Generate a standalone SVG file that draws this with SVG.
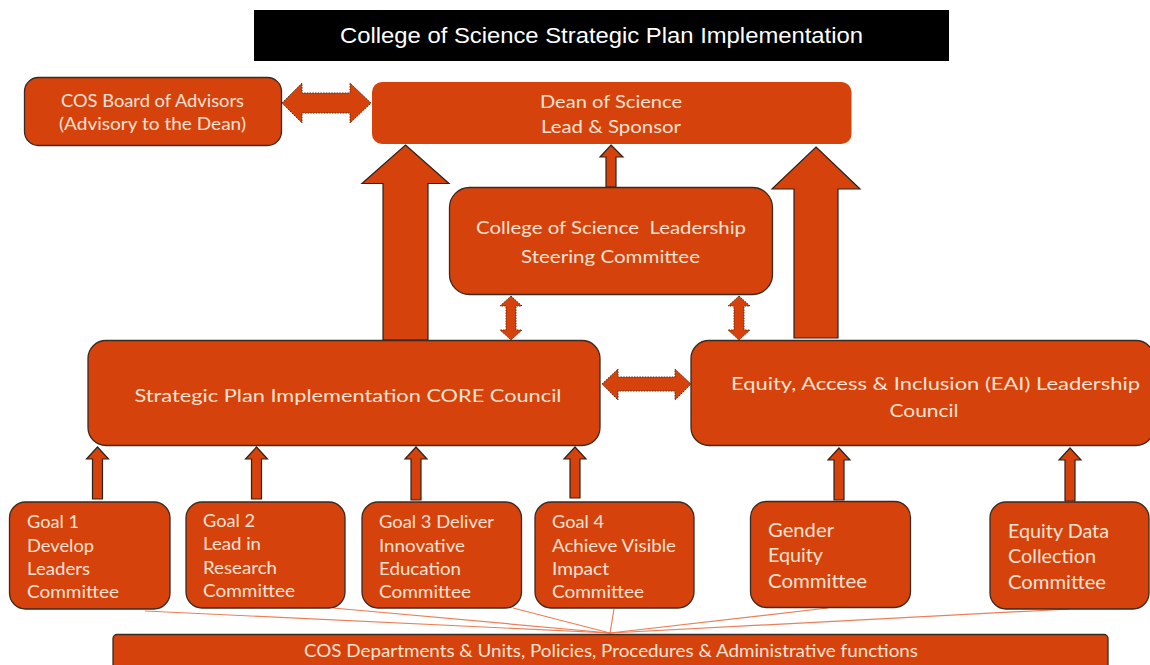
<svg xmlns="http://www.w3.org/2000/svg" width="1150" height="665" viewBox="0 0 1150 665">
<style>
.box{fill:#d5420b;stroke:#3a2a22;stroke-width:1.3}
.nb{fill:#d5420b}
.arr{fill:#d5420b;stroke:#2e221c;stroke-width:1.2;stroke-linejoin:miter}
.darr{fill:#d5420b;stroke:#5b2a14;stroke-width:1;stroke-dasharray:1.5 1.2}
.t{font-family:Lato,"Open Sans","Liberation Sans",sans-serif;font-size:18px;fill:#fde3d4}
.c{text-anchor:middle}
.ln{stroke:#ec7f57;stroke-width:1.2;fill:none}
.title{font-family:"Liberation Sans",Arial,sans-serif;font-size:22px;fill:#ffffff;text-anchor:middle}
</style>

<g id="title">
<rect x="254" y="10" width="695" height="51" fill="#000"/>
<text class="title" x="601.5" y="43" textLength="523" lengthAdjust="spacingAndGlyphs">College of Science Strategic Plan Implementation</text>
</g>

<g id="connectors">
<!-- thin lines to departments bar -->
<line class="ln" x1="145" y1="611" x2="610" y2="633"/>
<line class="ln" x1="333" y1="608" x2="610" y2="633"/>
<line class="ln" x1="513" y1="608" x2="610" y2="633"/>
<line class="ln" x1="614" y1="609" x2="610" y2="633"/>
<line class="ln" x1="828" y1="608" x2="610" y2="633"/>
<line class="ln" x1="1070" y1="609" x2="610" y2="633"/>
<!-- Board <-> Dean -->
<polygon class="darr" points="282,103 302,83 302,93 350,93 350,83 371,103 350,123 350,113 302,113 302,123"/>
<!-- big arrows up to Dean -->
<polygon class="arr" points="405.5,145 449,183.5 428,183.5 428,340 383,340 383,183.5 362,183.5"/>
<polygon class="arr" points="816,147 860,189 838,189 838,338 794,338 794,189 772,189"/>
<!-- steering up to Dean -->
<polygon class="arr" points="611,145 623,157 616,157 616,187 606,187 606,157 600,157"/>
<!-- steering <-> CORE / EAI -->
<polygon class="darr" points="511,296 522,306 516,306 516,330 522,330 511,340 500,330 506,330 506,306 500,306"/>
<polygon class="darr" points="739,296 750,306 744,306 744,330 750,330 739,340 728,330 734,330 734,306 728,306"/>
<!-- CORE <-> EAI -->
<polygon class="darr" points="602,384 618,369 618,377 675,377 675,369 691,384 675,400 675,391 618,391 618,400"/>
<!-- goal arrows -->
<polygon class="arr" points="97.5,447 108.5,459 102.5,459 102.5,499 92.5,499 92.5,459 86.5,459"/>
<polygon class="arr" points="256.5,447 267.5,459 261.5,459 261.5,499 251.5,499 251.5,459 245.5,459"/>
<polygon class="arr" points="416,447 427,459 421,459 421,500 411,500 411,459 405,459"/>
<polygon class="arr" points="575,447 586,459 580,459 580,498 570,498 570,459 564,459"/>
<polygon class="arr" points="839,448 850,460 844,460 844,500 834,500 834,460 828,460"/>
<polygon class="arr" points="1070,448 1081,460 1075,460 1075,501 1065,501 1065,460 1059,460"/>
</g>

<g id="board">
<rect class="box" x="24.5" y="77.5" width="257" height="68" rx="14"/>
<text class="t c" x="152.5" y="107" textLength="183" lengthAdjust="spacingAndGlyphs">COS Board of Advisors</text>
<text class="t c" x="152.5" y="130" textLength="187" lengthAdjust="spacingAndGlyphs">(Advisory to the Dean)</text>
</g>

<g id="dean">
<rect class="nb" x="372" y="82" width="479.5" height="62" rx="10"/>
<text class="t c" x="611" y="108" textLength="142" lengthAdjust="spacingAndGlyphs">Dean of Science</text>
<text class="t c" x="611" y="133" textLength="140" lengthAdjust="spacingAndGlyphs">Lead &amp; Sponsor</text>
</g>

<g id="steering">
<rect class="box" x="449.5" y="187.5" width="323" height="107" rx="20"/>
<text class="t c" x="611" y="234" textLength="270" lengthAdjust="spacingAndGlyphs" xml:space="preserve">College of Science  Leadership</text>
<text class="t c" x="610.5" y="263" textLength="179" lengthAdjust="spacingAndGlyphs">Steering Committee</text>
</g>

<g id="core">
<rect class="box" x="88" y="340.5" width="512" height="105" rx="18"/>
<text class="t c" x="348" y="402" textLength="427" lengthAdjust="spacingAndGlyphs">Strategic Plan Implementation CORE Council</text>
</g>

<g id="eai">
<rect class="box" x="691" y="340.5" width="463" height="105" rx="18"/>
<text class="t c" x="935.5" y="390" textLength="409" lengthAdjust="spacingAndGlyphs">Equity, Access &amp; Inclusion (EAI) Leadership</text>
<text class="t c" x="924" y="417" textLength="69" lengthAdjust="spacingAndGlyphs">Council</text>
</g>

<g id="goal1">
<rect class="box" x="9.5" y="502" width="160.5" height="107" rx="16"/>
<text class="t" x="27" y="528" textLength="52" lengthAdjust="spacingAndGlyphs">Goal 1</text>
<text class="t" x="27" y="552" textLength="67" lengthAdjust="spacingAndGlyphs">Develop</text>
<text class="t" x="27" y="575" textLength="63" lengthAdjust="spacingAndGlyphs">Leaders</text>
<text class="t" x="27" y="598" textLength="92" lengthAdjust="spacingAndGlyphs">Committee</text>
</g>

<g id="goal2">
<rect class="box" x="186" y="502" width="159" height="106" rx="16"/>
<text class="t" x="203" y="527" textLength="52" lengthAdjust="spacingAndGlyphs">Goal 2</text>
<text class="t" x="203" y="550" textLength="58" lengthAdjust="spacingAndGlyphs">Lead in</text>
<text class="t" x="203" y="574" textLength="74" lengthAdjust="spacingAndGlyphs">Research</text>
<text class="t" x="203" y="597" textLength="92" lengthAdjust="spacingAndGlyphs">Committee</text>
</g>

<g id="goal3">
<rect class="box" x="362" y="502" width="159.5" height="106" rx="16"/>
<text class="t" x="379" y="528" textLength="115" lengthAdjust="spacingAndGlyphs">Goal 3 Deliver</text>
<text class="t" x="379" y="552" textLength="86" lengthAdjust="spacingAndGlyphs">Innovative</text>
<text class="t" x="379" y="575" textLength="82" lengthAdjust="spacingAndGlyphs">Education</text>
<text class="t" x="379" y="598" textLength="92" lengthAdjust="spacingAndGlyphs">Committee</text>
</g>

<g id="goal4">
<rect class="box" x="535" y="502" width="159" height="106" rx="16"/>
<text class="t" x="552" y="528" textLength="52" lengthAdjust="spacingAndGlyphs">Goal 4</text>
<text class="t" x="552" y="552" textLength="124" lengthAdjust="spacingAndGlyphs">Achieve Visible</text>
<text class="t" x="552" y="575" textLength="57" lengthAdjust="spacingAndGlyphs">Impact</text>
<text class="t" x="552" y="598" textLength="92" lengthAdjust="spacingAndGlyphs">Committee</text>
</g>

<g id="gender">
<rect class="box" x="750.5" y="501.5" width="160" height="106" rx="16"/>
<text class="t" x="768" y="537" textLength="66" lengthAdjust="spacingAndGlyphs" style="font-size:19.5px">Gender</text>
<text class="t" x="768" y="562" textLength="55" lengthAdjust="spacingAndGlyphs" style="font-size:19.5px">Equity</text>
<text class="t" x="768" y="588" textLength="99" lengthAdjust="spacingAndGlyphs" style="font-size:19.5px">Committee</text>
</g>

<g id="equitydata">
<rect class="box" x="990" y="502" width="159" height="107" rx="16"/>
<text class="t" x="1008" y="538" textLength="101" lengthAdjust="spacingAndGlyphs" style="font-size:19.5px">Equity Data</text>
<text class="t" x="1008" y="563" textLength="88" lengthAdjust="spacingAndGlyphs" style="font-size:19.5px">Collection</text>
<text class="t" x="1008" y="589" textLength="98" lengthAdjust="spacingAndGlyphs" style="font-size:19.5px">Committee</text>
</g>

<g id="departments">
<rect class="box" x="113" y="634.5" width="995" height="40" rx="4"/>
<text class="t c" x="611" y="657" textLength="614" lengthAdjust="spacingAndGlyphs">COS Departments &amp; Units, Policies, Procedures &amp; Administrative functions</text>
</g>
</svg>
